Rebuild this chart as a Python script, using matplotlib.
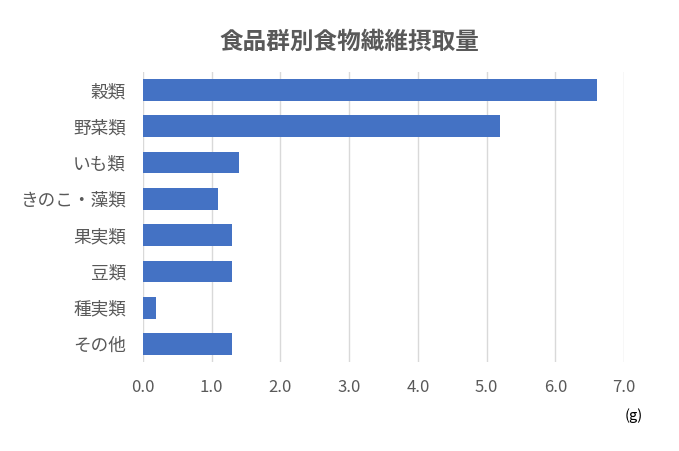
#食品群別食物繊維摂取量の横棒グラフ
import matplotlib
matplotlib.use('Agg')
import matplotlib.pyplot as plt

plt.rcParams['font.family'] = ['Noto Sans CJK JP', 'DejaVu Sans']

groups = ['穀類', '野菜類', 'いも類', 'きのこ・藻類', '果実類', '豆類', '種実類', 'その他']
fiber = [6.6, 5.2, 1.4, 1.1, 1.3, 1.3, 0.2, 1.3]
ticks = [0, 1, 2, 3, 4, 5, 6, 7]

fig = plt.figure(figsize=(6.79, 4.51), dpi=100)
ax = fig.add_axes([0.2102, 0.1973, 0.7092, 0.6431])

ax.barh(range(len(groups)), fiber, height=0.6, color='#4472C4', zorder=3)
ax.set_ylim(len(groups) - 0.5, -0.5)
ax.set_yticks(range(len(groups)))
ax.set_yticklabels(groups, fontsize=12.7)
ax.set_xlim(0, 7)
ax.set_xticks(ticks)
ax.set_xticklabels(['%.1f' % t for t in ticks], fontsize=12)
ax.grid(axis='x', color='#d9d9d9', linewidth=1, zorder=0)
for s in ax.spines.values():
    s.set_visible(False)
ax.tick_params(length=0, colors='#595959')
ax.tick_params(axis='x', pad=12)
ax.tick_params(axis='y', pad=12)

fig.text(0.515, 0.907, '食品群別食物繊維摂取量', ha='center', va='center',
         fontsize=17, fontweight='bold', color='#595959')
fig.text(0.934, 0.078, '(g)', ha='center', va='center', fontsize=10.5, color='black')

fig.savefig('out.png', dpi=100)
